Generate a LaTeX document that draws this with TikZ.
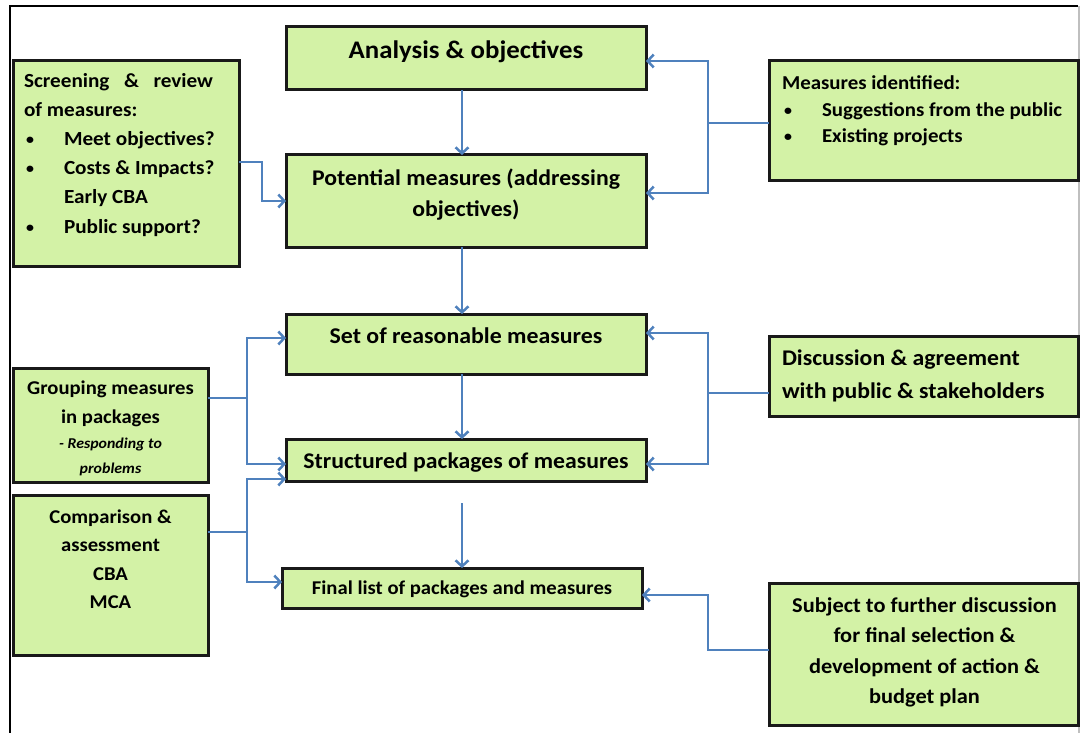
\documentclass[tikz,border=0pt]{standalone}
\usepackage{fontspec}
\setmainfont{Carlito}[FakeStretch=1.06]
\usetikzlibrary{arrows.meta}
\definecolor{boxg}{HTML}{D3F2A6}
\definecolor{arrb}{HTML}{4F81BD}
\newcommand{\myfs}[2]{\fontsize{#1}{#2}\selectfont}
\newcommand{\bul}[1]{\makebox[#1][l]{\hspace*{2pt}\raisebox{1pt}{\fontsize{15}{15}\selectfont •}}}
\begin{document}
\begin{tikzpicture}[x=1pt,y=-1pt,
  box/.style={draw=black!90, line width=3pt, fill=boxg, inner sep=0pt, outer sep=0pt},
  txt/.style={inner sep=0pt, outer sep=0pt},
  arr/.style={draw=arrb, line width=2.8pt, -{Straight Barb[length=6pt,width=13pt,line width=2.5pt]}},
  conn/.style={draw=arrb, line width=2.8pt}]
\useasboundingbox (0,0) rectangle (1080,733);
\draw[black, line width=2.4pt] (10,733) -- (10,6) -- (1078,6);
\draw[black!25, line width=1.5pt] (1079,6) -- (1079,733);

% boxes
\node[box, minimum width=360pt, minimum height=63pt] (ana) at (466,58.5) {};
\node[box, minimum width=360pt, minimum height=92pt] (pot) at (466,201) {};
\node[box, minimum width=226pt, minimum height=205pt] (scr) at (126,163.5) {};
\node[box, minimum width=309pt, minimum height=120pt] (mid) at (923.5,121) {};
\node[box, minimum width=360pt, minimum height=60pt] (set) at (466,344) {};
\node[box, minimum width=360pt, minimum height=42pt] (str) at (466,460) {};
\node[box, minimum width=360pt, minimum height=40pt] (fin) at (462,588) {};
\node[box, minimum width=195pt, minimum height=114pt] (grp) at (110.5,425) {};
\node[box, minimum width=195pt, minimum height=160pt] (cmp) at (110.5,575) {};
\node[box, minimum width=309pt, minimum height=80pt] (dis) at (923.5,376) {};
\node[box, minimum width=309pt, minimum height=142pt] (sub) at (923.5,654) {};

% texts
\node[txt, anchor=base, font=\bfseries\myfs{25.3}{30}] (anat) at (466,59) {Analysis \& objectives};
\node[txt, anchor=north, align=center, font=\bfseries\myfs{22.4}{32}] (pott) at (466,162.6) {\strut Potential measures (addressing\\objectives)};
\node[txt, anchor=north west, align=left, font=\bfseries\myfs{20}{29.2}] (scrt) at (24,66.6) {\strut\makebox[189pt][s]{Screening \& review}\\of measures:\\\bul{40pt}Meet objectives?\\\bul{40pt}Costs \& Impacts?\\\hspace*{40pt}Early CBA\\\bul{40pt}Public support?};
\node[txt, anchor=north west, align=left, font=\bfseries\myfs{19.7}{26.5}] (midt) at (782,71.45) {\strut Measures identified:\\\bul{40pt}Suggestions from the public\\\bul{40pt}Existing projects};
\node[txt, anchor=base, font=\bfseries\myfs{22.5}{26}] (sett) at (466,343) {Set of reasonable measures};
\node[txt, anchor=base, font=\bfseries\myfs{22.4}{26}] (strt) at (466,468) {Structured packages of measures};
\node[txt, anchor=base, font=\bfseries\myfs{19.5}{24}] (fint) at (462,594) {Final list of packages and measures};
\node[txt, anchor=north, align=center, font=\bfseries\myfs{19.5}{29}] (grpt) at (110.5,373.7) {\strut Grouping measures\\in packages};
\node[txt, anchor=north, align=center, font=\bfseries\itshape\myfs{15}{25}] (grpi) at (110.5,430.5) {\strut - Responding to\\problems};
\node[txt, anchor=north, align=center, font=\bfseries\myfs{19.5}{28.5}] (cmpt) at (110.5,503.05) {\strut Comparison \&\\assessment\\CBA\\MCA};
\node[txt, anchor=north west, align=left, font=\bfseries\myfs{22.4}{33}] (dist) at (782,341.9) {\strut Discussion \& agreement\\with public \& stakeholders};
\node[txt, anchor=north, align=center, font=\bfseries\myfs{21.1}{30.5}] (subt) at (924.5,590.65) {\strut Subject to further discussion\\for final selection \&\\development of action \&\\budget plan};

% vertical flow
\draw[arr] ([xshift=-4pt]ana.south) -- ([xshift=-4pt]pot.north);
\draw[arr] ([xshift=-4pt]pot.south) -- ([xshift=-4pt]set.north);
\draw[arr] ([xshift=-4pt]set.south) -- ([xshift=-4pt]str.north);
\coordinate (gap) at (462,503);
\draw[arr] (gap) -- (fin.north);

% measures identified
\coordinate (jm) at (708,123);
\draw[arr] ([yshift=-2pt]mid.west) -- (jm) |- ([yshift=-2.5pt]ana.east);
\draw[arr] (jm) |- ([yshift=8pt]pot.east);

% screening
\coordinate (js1) at (262,162);
\draw[arr] ([yshift=1.5pt]scr.east) -- (js1) |- (pot.west);

% grouping
\coordinate (jg) at (247,398);
\draw[conn] ([yshift=27pt]grp.east) -- (jg);
\draw[arr] (jg) |- ([yshift=6pt]set.west);
\draw[arr] (jg) |- ([yshift=-4pt]str.west);

% comparison
\coordinate (jc) at (247,532);
\draw[conn] ([yshift=43pt]cmp.east) -- (jc);
\draw[arr] (jc) |- ([yshift=-19pt]str.west);
\draw[arr] (jc) |- ([yshift=6pt]fin.west);

% discussion
\coordinate (jd) at (708,393);
\draw[conn] ([yshift=-17pt]dis.west) -- (jd);
\draw[arr] (jd) |- ([yshift=11pt]set.east);
\draw[arr] (jd) |- ([yshift=-4pt]str.east);

% subject
\coordinate (jsub) at (708,650);
\draw[arr] ([yshift=4pt]sub.west) -- (jsub) |- ([yshift=-7pt]fin.east);
\end{tikzpicture}
\end{document}
